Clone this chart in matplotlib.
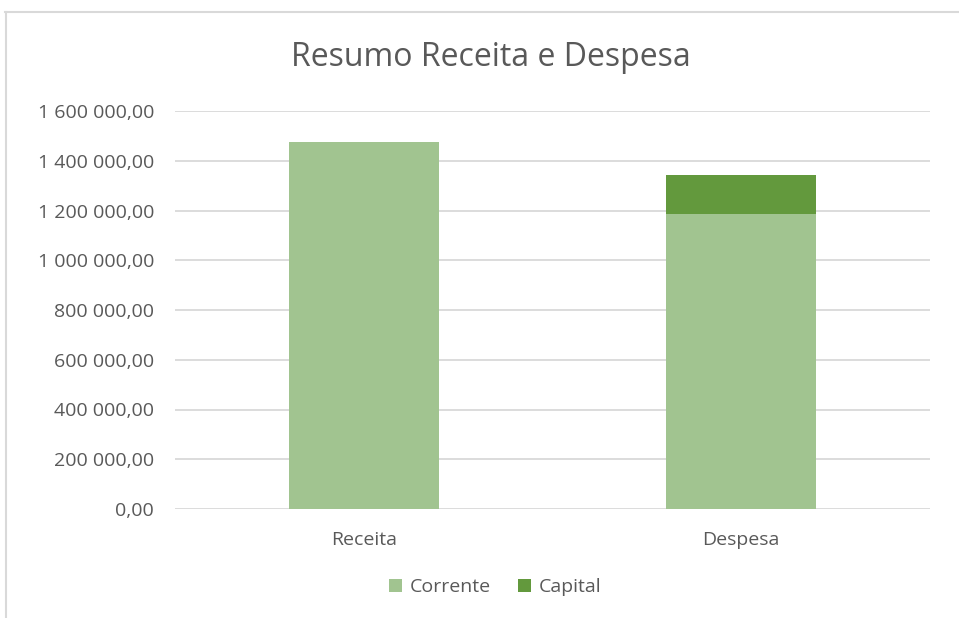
import matplotlib
matplotlib.use("Agg")
import matplotlib.pyplot as plt
from matplotlib.ticker import FuncFormatter
from matplotlib.lines import Line2D

categories = ["Receita", "Despesa"]
corrente = [1477000, 1185000]
capital = [0, 156500]
yticks = [0, 200000, 400000, 600000, 800000, 1000000, 1200000, 1400000, 1600000]

plt.rcParams['font.family'] = ['Open Sans', 'DejaVu Sans']
text_color = '#595959'
c_corr = '#A1C490'
c_cap = '#63993D'

fig = plt.figure(figsize=(9.59, 6.18), dpi=100)
ax = fig.add_axes([175/959, 1-509/618, (930-175)/959, (509-111)/618])

x = list(range(len(categories)))
ax.bar(x, corrente, width=0.397, color=c_corr, label='Corrente', zorder=3)
ax.bar(x, capital, width=0.397, bottom=corrente, color=c_cap, label='Capital', zorder=3)

ax.set_xlim(-0.5, 1.5)
ax.set_ylim(0, 1600000)
ax.set_yticks(yticks)

def fmt(v, pos):
    s = f"{int(round(v)):,}".replace(",", " ")
    return s + ",00"
ax.yaxis.set_major_formatter(FuncFormatter(fmt))
ax.set_xticks(x)
ax.set_xticklabels(categories)

ax.grid(axis='y', color='#D9D9D9', linewidth=1.3, zorder=0)
for s in ax.spines.values():
    s.set_visible(False)
ax.tick_params(axis='both', length=0, colors=text_color, labelsize=14)
ax.tick_params(axis='y', pad=15)
ax.tick_params(axis='x', pad=16)

fig.text(491/959, 1-58/618, "Resumo Receita e Despesa", ha='center', va='center',
         fontsize=23, color=text_color)

leg = fig.legend(loc='center', bbox_to_anchor=(495/959, 1-587/618), ncol=2, frameon=False,
                 fontsize=14, handlelength=0.65, handleheight=0.65, handletextpad=0.4,
                 columnspacing=1.4, labelcolor=text_color)

# chart frame
fig.add_artist(Line2D([5/959, 1], [1-12/618, 1-12/618], color='#D9D9D9', linewidth=1.5))
fig.add_artist(Line2D([6/959, 6/959], [0, 1-12/618], color='#D9D9D9', linewidth=1.5))

fig.savefig("out.png", dpi=100)
